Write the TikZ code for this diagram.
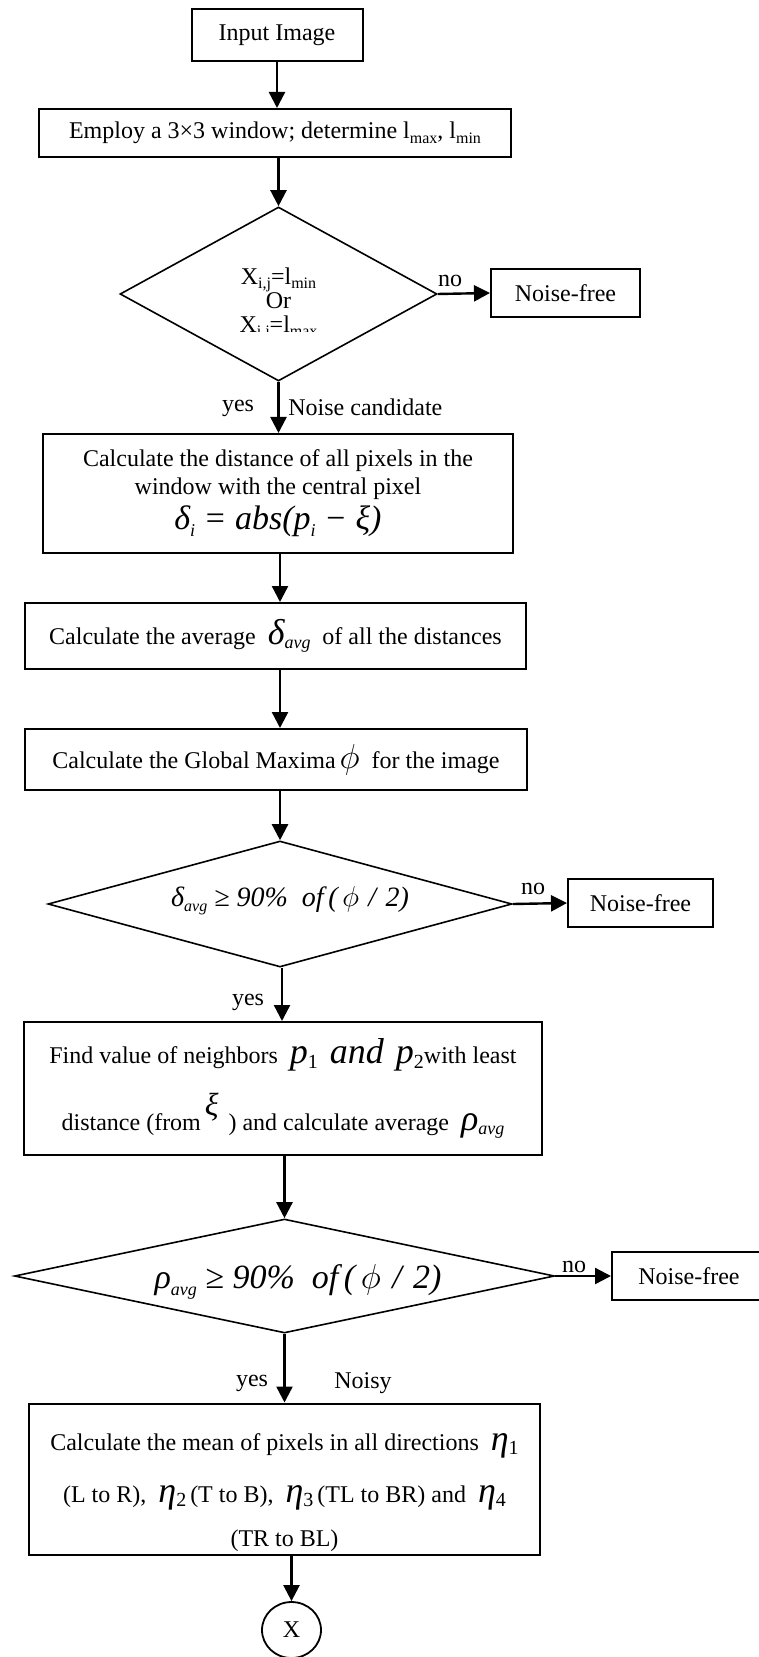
\documentclass[tikz,border=0pt]{standalone}
\usepackage{fontspec}
\setmainfont{Liberation Serif}
\usetikzlibrary{shapes.geometric,arrows.meta}
\newcommand{\fs}[1]{\fontsize{#1}{#1}\selectfont}
\newcommand{\sbs}[2][8]{\raisebox{-0.4ex}{\fontsize{#1}{#1}\selectfont #2}}
\begin{document}
\begin{tikzpicture}[x=0.5pt,y=-0.5pt,
  box/.style={draw, line width=1pt, inner sep=0pt, align=center, font=\fontsize{12}{14}\selectfont},
  dia/.style={draw, diamond, line width=0.8pt, inner sep=0pt},
  arr/.style={line width=1.2pt, -{Triangle[width=8pt,length=8pt]}},
  lbl/.style={inner sep=0pt, font=\fs{12}},
  ell/.style={draw, ellipse, line width=0.9pt, inner sep=0pt, font=\fs{12}}]
\useasboundingbox (0,0) rectangle (759,1657);
% nodes
\node[box, minimum width=85.5pt, minimum height=26pt] (inp) at (277,35) {Input Image};
\node[box, minimum width=236pt, minimum height=24pt] (emp) at (275,133)
  {Employ a 3×3 window; determine l\sbs{max}, l\sbs{min}};
\node[dia, minimum width=158.5pt, minimum height=87pt] (d1) at (278.5,294) {};
\begin{scope}
  \clip (120,200) rectangle (437,332);
  \node[inner sep=0pt, align=center, font=\fontsize{12}{12}\selectfont] (d1t) at (278.5,304)
    {X\sbs{i,j}=l\sbs{min}\\Or\\X\sbs{i,j}=l\sbs{max}};
\end{scope}
\node[box, minimum width=74.5pt, minimum height=24pt] (nf1) at (565.5,293) {Noise-free};
\node[lbl] (no1) at (450,281) {no};
\node[lbl] (yes1) at (238,408) {yes};
\node[lbl, anchor=west] (nc) at (288,407) {Noise candidate};
\node[box, minimum width=235pt, minimum height=59.5pt] (b3) at (278,493.5)
  {Calculate the distance of all pixels in the\\window with the central pixel\\[2pt]
   {\fs{17}\itshape δ\sbs[9]{i} = abs(p\sbs[9]{i} − ξ)}};
\node[box, minimum width=250.5pt, minimum height=33pt] (b4) at (275.5,636)
  {Calculate the average\enspace{\fs{18}\itshape δ}\sbs[9]{\itshape avg}\enspace of all the distances};
\node[box, minimum width=251pt, minimum height=30.5pt] (b5) at (276,759.5)
  {Calculate the Global Maxima\,{\fs{17}$\phi$}\enspace for the image};
\node[dia, minimum width=232pt, minimum height=63pt] (d2) at (280,904) {};
\node[inner sep=0pt, font=\fs{14}\itshape] (d2t) at (290,901)
  {δ\sbs[8]{avg} ≥ 90\%\enspace of\,(\,$\phi$\,\,/\,\,2)};
\node[box, minimum width=72.5pt, minimum height=24pt] (nf2) at (640.5,903) {Noise-free};
\node[lbl] (no2) at (533,889) {no};
\node[lbl] (yes2) at (248,1002) {yes};
\node[box, minimum width=259pt, minimum height=66.5pt] (b6) at (283,1088.5)
  {Find value of neighbors\enspace{\fs{18}\itshape p}\sbs[10]{1}\enspace{\fs{18}\itshape and}\enspace{\fs{18}\itshape p}\sbs[10]{2}with least\\[10pt]
   distance (from\,\raisebox{1.3ex}{\fs{16}\itshape ξ}\, ) and calculate average\enspace{\fs{18}\itshape ρ}\sbs[9]{\itshape avg}};
\node[dia, minimum width=270pt, minimum height=57pt] (d3) at (284.5,1276) {};
\node[inner sep=0pt, font=\fs{17}\itshape] (d3t) at (298,1282)
  {ρ\sbs[9]{avg} ≥ 90\%\enspace of\,(\,$\phi$\,\,/\,\,2)};
\node[box, minimum width=77pt, minimum height=24pt] (nf3) at (689,1276) {Noise-free};
\node[lbl] (no3) at (574,1267) {no};
\node[lbl] (yes3) at (252,1383) {yes};
\node[lbl] (noisy) at (363,1383) {Noisy};
\node[box, minimum width=255.5pt, minimum height=75.5pt] (b7) at (284.5,1479)
  {\rule{0pt}{22pt}Calculate the mean of pixels in all directions\enspace{\fs{18}\itshape η}\sbs[10]{1}\\[12pt]
   (L to R),\enspace{\fs{18}\itshape η}\sbs[10]{2}\,(T to B),\enspace{\fs{18}\itshape η}\sbs[10]{3}\,(TL to BR) and\enspace{\fs{18}\itshape η}\sbs[10]{4}\\[8pt]
   (TR to BL)};
\node[ell, minimum width=29.5pt, minimum height=28pt] (x) at (291.5,1630) {X};
% connectors
\draw[arr] (inp.south) -- (inp.south |- emp.north);
\draw[arr] (d1.north |- emp.south) -- (d1.north);
\draw[arr] (d1.east) -- (nf1.west);
\draw[arr] (d1.south) -- (d1.south |- b3.north);
\draw[arr] ([xshift=1pt]b3.south) -- ([xshift=1pt]b3.south |- b4.north);
\draw[arr] (d2.north |- b4.south) -- (d2.north |- b5.north);
\draw[arr] (d2.north |- b5.south) -- (d2.north);
\draw[arr] (d2.east) -- (nf2.west);
\draw[arr] ([xshift=1pt]d2.south) -- ([xshift=1pt]d2.south |- b6.north);
\draw[arr] (d3.north |- b6.south) -- (d3.north);
\draw[arr] (d3.east) -- (nf3.west);
\draw[arr] (d3.south) -- (d3.south |- b7.north);
\draw[arr] (x.north |- b7.south) -- (x.north);
\end{tikzpicture}
\end{document}
